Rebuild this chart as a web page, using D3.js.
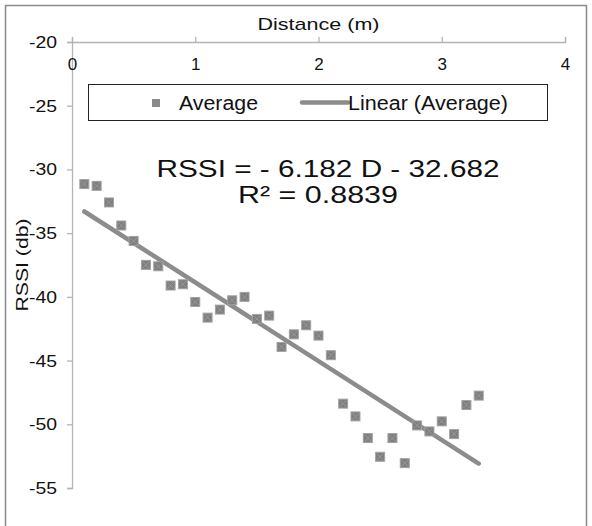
<!DOCTYPE html>
<html>
<head>
<meta charset="utf-8">
<script src="https://cdn.jsdelivr.net/npm/d3@7"></script>
<style>
  html, body { margin: 0; padding: 0; background: #fff; }
  svg { display: block; font-family: "Liberation Sans", Arial, sans-serif; }
</style>
</head>
<body>
<svg id="chart" width="592" height="526"></svg>
<script>
// ---- data ----
const distances = [0.1,0.2,0.3,0.4,0.5,0.6,0.7,0.8,0.9,1.0,1.1,1.2,1.3,1.4,1.5,1.6,1.7,1.8,1.9,2.0,2.1,2.2,2.3,2.4,2.5,2.6,2.7,2.8,2.9,3.0,3.1,3.2,3.3];
const rssiAverage = [-31.15,-31.29,-32.59,-34.40,-35.61,-37.49,-37.60,-39.11,-39.01,-40.40,-41.63,-41.00,-40.27,-40.00,-41.73,-41.47,-43.93,-42.94,-42.23,-43.04,-44.58,-48.38,-49.38,-51.08,-52.55,-51.08,-53.05,-50.09,-50.56,-49.77,-50.77,-48.49,-47.75];
const xTicks = [0,1,2,3,4];
const yTicks = [-20,-25,-30,-35,-40,-45,-50,-55];
const trendSlope = -6.182;
const trendIntercept = -32.682;
const rSquared = "0.8839";
const xTitle = "Distance (m)";
const yTitle = "RSSI (db)";
const legendLabels = ["Average", "Linear (Average)"];

// ---- layout ----
const svg = d3.select("#chart");
const x = d3.scaleLinear().domain([0, 4]).range([72, 565]);
const y = d3.scaleLinear().domain([-55, -20]).range([488, 42]);
const axisColor = "#b4b4b4";
const markColor = "#7f7f7f";
const plain = d => String(d);

// outer chart border
svg.append("rect").attr("x", 5.5).attr("y", 5.5).attr("width", 581).attr("height", 540)
  .attr("fill", "none").attr("stroke", "#8a8a8a").attr("stroke-width", 1.5);

// y axis
const gy = svg.append("g").attr("transform", `translate(${x(0)},0)`)
  .call(d3.axisLeft(y).tickValues(yTicks).tickSize(5).tickPadding(10).tickFormat(plain));
gy.selectAll("path, line").attr("stroke", axisColor).attr("stroke-width", 1.3);
gy.selectAll("text").attr("font-size", 17).attr("fill", "#111")
  .attr("font-family", "'Liberation Sans', Arial, sans-serif")
  .attr("textLength", 28).attr("lengthAdjust", "spacingAndGlyphs");

// x axis (at top, y = -20), labels below the line
const gx = svg.append("g").attr("transform", `translate(0,${y(-20)})`)
  .call(d3.axisBottom(x).tickValues(xTicks).tickSizeInner(-5).tickSizeOuter(-5).tickPadding(16).tickFormat(plain));
gx.selectAll("path, line").attr("stroke", axisColor).attr("stroke-width", 1.3);
gx.selectAll("text").attr("font-size", 17).attr("fill", "#111")
  .attr("font-family", "'Liberation Sans', Arial, sans-serif");

// axis titles
svg.append("text").attr("x", (x(0) + x(4)) / 2).attr("y", 30).attr("text-anchor", "middle")
  .attr("font-size", 17).attr("fill", "#111").attr("textLength", 122).attr("lengthAdjust", "spacingAndGlyphs")
  .text(xTitle);
svg.append("text").attr("transform", `translate(28,${(y(-20) + y(-55)) / 2}) rotate(-90)`)
  .attr("text-anchor", "middle").attr("font-size", 17).attr("fill", "#111")
  .attr("textLength", 93).attr("lengthAdjust", "spacingAndGlyphs")
  .text(yTitle);

// trendline
const trendX = [d3.min(distances), d3.max(distances)];
svg.append("line")
  .attr("x1", x(trendX[0])).attr("y1", y(trendSlope * trendX[0] + trendIntercept))
  .attr("x2", x(trendX[1])).attr("y2", y(trendSlope * trendX[1] + trendIntercept))
  .attr("stroke", "#8c8c8c").attr("stroke-width", 4.5).attr("stroke-linecap", "round");

// markers
function marker(g, cx, cy, s) {
  const h = s / 2;
  g.append("rect").attr("x", cx - h).attr("y", cy - h).attr("width", s).attr("height", s)
    .attr("fill", markColor).attr("stroke", "#a3a3a3").attr("stroke-width", 1);
  g.append("path").attr("d", `M${cx - h + 1.5},${cy - h + 1.5}L${cx + h - 1.5},${cy + h - 1.5}M${cx + h - 1.5},${cy - h + 1.5}L${cx - h + 1.5},${cy + h - 1.5}`)
    .attr("stroke", "#999").attr("stroke-width", 1);
}
const pts = svg.append("g");
distances.forEach((d, i) => marker(pts, x(d), y(rssiAverage[i]), 9));

// legend
const lg = svg.append("g");
lg.append("rect").attr("x", 88.5).attr("y", 84.5).attr("width", 459).attr("height", 36)
  .attr("fill", "#fff").attr("stroke", "#222").attr("stroke-width", 1);
lg.append("rect").attr("x", 152).attr("y", 99).attr("width", 8).attr("height", 8).attr("fill", "#8a8a8a");
lg.append("text").attr("x", 179).attr("y", 110).attr("font-size", 20).attr("fill", "#111")
  .attr("textLength", 79).attr("lengthAdjust", "spacingAndGlyphs").text(legendLabels[0]);
lg.append("line").attr("x1", 302).attr("x2", 348).attr("y1", 102.5).attr("y2", 102.5)
  .attr("stroke", "#8c8c8c").attr("stroke-width", 4.5).attr("stroke-linecap", "round");
lg.append("text").attr("x", 348).attr("y", 110).attr("font-size", 20).attr("fill", "#111")
  .attr("textLength", 160).attr("lengthAdjust", "spacingAndGlyphs").text(legendLabels[1]);

// equation label
const eq1 = `RSSI = - ${Math.abs(trendSlope).toFixed(3)} D - ${Math.abs(trendIntercept).toFixed(3)}`;
svg.append("text").attr("x", 328).attr("y", 177).attr("text-anchor", "middle")
  .attr("font-size", 24).attr("fill", "#111").attr("textLength", 343).attr("lengthAdjust", "spacingAndGlyphs")
  .text(eq1);
svg.append("text").attr("x", 318).attr("y", 203).attr("text-anchor", "middle")
  .attr("font-size", 24).attr("fill", "#111").attr("textLength", 160).attr("lengthAdjust", "spacingAndGlyphs")
  .text(`R² = ${rSquared}`);
</script>
</body>
</html>
